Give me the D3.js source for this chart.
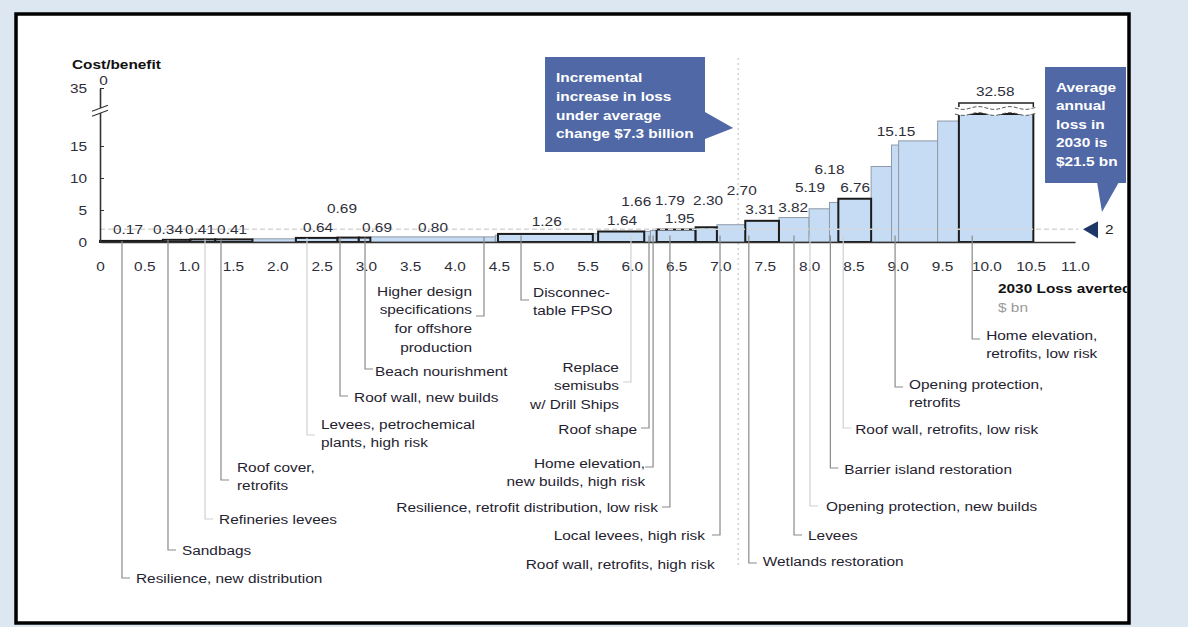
<!DOCTYPE html>
<html><head><meta charset="utf-8">
<script src="https://cdn.jsdelivr.net/npm/d3@7"></script>
<style>
html,body{margin:0;padding:0;background:#dde7f1;}
svg{display:block;font-family:"Liberation Sans",Arial,Helvetica,sans-serif;}
</style></head><body>
<svg id="chart" width="1188" height="627"></svg>
<script>
// ---------------- data ----------------
// Loss averted by each measure, $ bn (bar widths, in order)
const lossAverted = [0.71, 0.31, 0.28, 0.42, 0.49, 0.47, 0.24, 0.13, 1.41, 0.03, 1.07, 0.06, 0.52, 0.07,
                     0.07, 0.44, 0.24, 0.32, 0.38, 0.34, 0.23, 0.10, 0.37, 0.23, 0.08, 0.44, 0.24, 0.84];
// Cost/benefit ratio (bar heights)
const costBenefit = [0.17, 0.34, 0.41, 0.41, 0.50, 0.64, 0.69, 0.69, 0.80, 1.05, 1.26, 1.30, 1.64, 1.66,
                     1.79, 1.95, 2.30, 2.70, 3.31, 3.82, 5.19, 6.18, 6.76, 11.8, 15.15, 15.8, 18.9, 32.58];
const valueLabels = ["0.17","0.34","0.41","0.41","","0.64","0.69","0.69","0.80","","1.26","","1.64","1.66",
                     "1.79","1.95","2.30","2.70","3.31","3.82","5.19","6.18","6.76","","15.15","","","32.58"];
const highlighted = [1,1,1,1,0,1,1,1,0,0,1,0,1,0,0,1,1,0,1,0,0,0,1,0,0,0,0,1];
const measures = [
  "Resilience, new distribution", "Sandbags", "Refineries levees", "Roof cover,\nretrofits", "",
  "Levees, petrochemical\nplants, high risk", "Roof wall, new builds", "Beach nourishment",
  "Higher design\nspecifications\nfor offshore\nproduction", "", "Disconnec-\ntable FPSO", "",
  "Replace\nsemisubs\nw/ Drill Ships", "Roof shape", "Home elevation,\nnew builds, high risk",
  "Resilience, retrofit distribution, low risk", "Roof wall, retrofits, high risk", "Local levees, high risk",
  "Wetlands restoration", "Levees", "Opening protection, new builds", "Barrier island restoration",
  "Roof wall, retrofits, low risk", "", "Opening protection,\nretrofits", "", "", "Home elevation,\nretrofits, low risk"
];
const xTicks = d3.range(0, 11.001, 0.5);
const yTicks = [0, 5, 10, 15, 35];
const averageLoss = 2;          // marker "2"
const thresholdLoss = 7.2;      // dotted vertical line
const yCap = 20;                // bars above this are drawn broken
const calloutLeft = ["Incremental", "increase in loss", "under average", "change $7.3 billion"];
const calloutRight = ["Average", "annual", "loss in", "2030 is", "$21.5 bn"];

// ---------------- layout (annotation placement) ----------------
// value label anchors [x in $bn, y in cost/benefit units]
const valueLabelAt = {0:[0.316,1.25],1:[0.767,1.25],2:[1.128,1.25],3:[1.49,1.25],5:[2.46,1.6],6:[2.73,4.6],
  7:[3.125,1.6],8:[3.757,1.6],10:[5.04,2.45],12:[5.89,2.6],13:[6.05,5.7],14:[6.43,5.85],15:[6.54,2.95],
  16:[6.86,5.85],17:[7.24,7.3],18:[7.45,4.35],19:[7.82,4.7],20:[8.01,7.85],21:[8.23,10.7],22:[8.52,7.85],
  24:[8.98,16.55],27:[10.10,30.2]};
// leader: bar index, leader x ($bn), hook y, first line centre y, side, faint, dx
const leaderLayout = [
  {i:0, at:0.248, hook:578, top:578, side:"r"},
  {i:1, at:0.767, hook:550, top:550, side:"r"},
  {i:2, at:1.185, hook:519, top:519, side:"r", faint:true},
  {i:3, at:1.365, hook:480, top:467, side:"r", dx:16},
  {i:5, at:2.335, hook:435, top:424, side:"r", faint:true},
  {i:6, at:2.708, hook:396, top:397, side:"r"},
  {i:7, at:2.99, hook:369, top:371, side:"r", dx:10},
  {i:8, at:4.332, hook:316, top:291, side:"l"},
  {i:10, at:4.75, hook:300, top:292, side:"r", dx:12},
  {i:12, at:5.99, hook:382, top:367, side:"l", faint:true},
  {i:13, at:6.194, hook:428, top:429, side:"l"},
  {i:14, at:6.24, hook:467, top:463, side:"l", dx:-8},
  {i:15, at:6.43, hook:507, top:507, side:"l"},
  {i:16, at:7.07, hook:null, top:564, side:"l"},
  {i:17, at:6.995, hook:535, top:535, side:"l", dx:-15},
  {i:18, at:7.32, hook:563, top:561, side:"r"},
  {i:19, at:7.83, hook:535, top:535, side:"r"},
  {i:20, at:8.01, hook:506, top:506, side:"r", faint:true, dx:16},
  {i:21, at:8.24, hook:468, top:469, side:"r"},
  {i:22, at:8.385, hook:428, top:429, side:"r", faint:true, dx:12},
  {i:24, at:8.97, hook:387, top:384, side:"r"},
  {i:27, at:9.84, hook:339, top:335, side:"r"}
];

// ---------------- drawing ----------------
const SX = 1.14, FS = 13.5;
const svg = d3.select("#chart");
svg.append("rect").attr("width",1188).attr("height",627).attr("fill","#dde7f1");
svg.append("rect").attr("x",16).attr("y",14).attr("width",1113).attr("height",609).attr("fill","#fff");
svg.append("defs").append("clipPath").attr("id","fc")
  .append("rect").attr("x",17).attr("y",15).attr("width",1110).attr("height",607);
const g = svg.append("g").attr("clip-path","url(#fc)");

const x = d3.scaleLinear().domain([0, 11]).range([100, 1075]);
const y = d3.scaleLinear().domain([0, 20, 35]).range([242, 114, 88]);

function addText(parent, px, py, lines, o={}) {
  const t = parent.append("text")
    .attr("transform", `translate(${px},${py}) scale(${SX},1)`)
    .attr("text-anchor", o.anchor || "start")
    .attr("font-weight", o.weight || "normal")
    .attr("fill", o.fill || "#1f2330")
    .attr("font-size", o.size || FS);
  lines.forEach((s,k) => t.append("tspan").attr("x",0).attr("y", k*(o.lh||18.7)).text(s));
  return t;
}

// vertical dotted threshold line
g.append("line").attr("x1", x(thresholdLoss)).attr("x2", x(thresholdLoss))
  .attr("y1", 58).attr("y2", 568).attr("stroke","#c8c8c8").attr("stroke-width",1.2)
  .attr("stroke-dasharray","2,3");

// bars
const ends = d3.cumsum(lossAverted);
const bars = lossAverted.map((w,i) => ({i, x0: ends[i]-w, x1: ends[i], v: costBenefit[i], dark: !!highlighted[i]}));
const ordered = bars.filter(d => !d.dark).concat(bars.filter(d => d.dark));
g.append("g").selectAll("rect").data(ordered).join("rect")
  .attr("x", d => x(d.x0)).attr("width", d => x(d.x1) - x(d.x0))
  .attr("y", d => y(Math.min(d.v, yCap)))
  .attr("height", d => y(0) - y(Math.min(d.v, yCap)))
  .attr("fill", "#c6dcf5")
  .attr("stroke", d => d.dark ? "#1b1b1b" : "#8f9aa6")
  .attr("stroke-width", d => d.dark ? 2 : 1);

// average loss dashed line
g.append("line").attr("x1", x(0)).attr("x2", x(11)+3).attr("y1", y(averageLoss)).attr("y2", y(averageLoss))
  .attr("stroke","#d6d6d6").attr("stroke-width",1.4).attr("stroke-dasharray","5,3");

// broken bar(s)
bars.filter(d => d.v > yCap).forEach(d => {
  const xa = x(d.x0) - 4, xb = x(d.x1) + 4, yb = y(yCap), yt = yb - 6;
  const wave = (yy) => d3.range(xa, xb + 0.1, 2).map(px => [px, yy + 1.4*Math.sin((px - xa)/5)]);
  const top = wave(yt), bot = wave(yb).reverse();
  g.append("path").attr("d", d3.line()(top.concat(bot)) + "Z").attr("fill","#fff");
  [yt, yb].forEach(yy => g.append("path").attr("d", d3.line()(wave(yy)))
    .attr("fill","none").attr("stroke","#555").attr("stroke-width",1).attr("stroke-dasharray","4,2"));
  g.append("path").attr("d", `M${x(d.x0)},${yt-1}V${yt-5}H${x(d.x1)}V${yt-1}`)
    .attr("fill","none").attr("stroke","#222").attr("stroke-width",1.5);
});

// x axis
const xg = g.append("g").attr("transform", `translate(0,${y(0)})`)
  .call(d3.axisBottom(x).tickValues(xTicks).tickSize(0).tickSizeOuter(0)
    .tickFormat(d => d === 0 ? "0" : d3.format(".1f")(d)));
xg.attr("font-family", null).attr("font-size", null);
xg.select(".domain").attr("stroke","#333").attr("stroke-width",1.6);
xg.selectAll("text").attr("y", 0).attr("dy", null)
  .attr("transform", `translate(0,29) scale(${SX},1)`).attr("fill","#2e2e3a").attr("font-size", FS);

// y axis
const yg = g.append("g").attr("transform", `translate(${x(0)},0)`)
  .call(d3.axisLeft(y).tickValues(yTicks).tickSizeInner(-4).tickSizeOuter(0).tickPadding(0));
yg.attr("font-family", null).attr("font-size", null);
yg.select(".domain").attr("stroke","#333").attr("stroke-width",1.6);
yg.selectAll(".tick line").attr("stroke","#333");
yg.selectAll("text").attr("x", 0).attr("dy", null)
  .attr("transform", `translate(-13,4.8) scale(${SX},1)`).attr("fill","#2e2e3a").attr("font-size", FS);
// axis break marks
{
  const yc = y(21.6), x0 = x(0);
  g.append("path").attr("d", `M${x0-8},${yc} L${x0+8},${yc-6} L${x0+8},${yc-1} L${x0-8},${yc+5} Z`).attr("fill","#fff");
  [0, 5].forEach(o => g.append("line").attr("x1", x0-8).attr("y1", yc+o).attr("x2", x0+8).attr("y2", yc-6+o)
    .attr("stroke","#333").attr("stroke-width",1.1));
}
addText(g, x(0)+3.5, 85, ["0"], {anchor:"middle", fill:"#2e2e3a"});
addText(g, 72, 69, ["Cost/benefit"], {weight:"bold", fill:"#111"});
addText(g, 998, 293, ["2030 Loss averted"], {weight:"bold", fill:"#111"});
addText(g, 998, 312, ["$ bn"], {fill:"#9a9a9a"});

// leaders and measure names
leaderLayout.forEach(L => {
  const b = bars[L.i], lx = x(L.at), right = L.side === "r";
  if (L.hook !== null) {
    const y0 = y(Math.min(b.v, 1));
    g.append("path").attr("d", `M${lx},${y0}V${L.hook}H${lx + (right ? 8 : -8)}`)
      .attr("fill","none").attr("stroke", L.faint ? "#d0d0d0" : "#8a8a8a").attr("stroke-width",1.2);
  }
  const dx = L.dx !== undefined ? L.dx : (right ? 14 : -12);
  addText(g, lx + dx, L.top + 4.8, measures[L.i].split("\n"), {anchor: right ? "start" : "end"});
});

// value labels
bars.forEach(b => {
  if (!valueLabels[b.i]) return;
  const p = valueLabelAt[b.i];
  addText(g, x(p[0]), y(p[1]), [valueLabels[b.i]], {anchor:"middle", fill:"#2e2e3a"});
});

// callout: incremental increase
const boxC = "#5068a6";
g.append("rect").attr("x", 545).attr("y", 57).attr("width", 160).attr("height", 95).attr("fill", boxC);
g.append("path").attr("d", `M705,112L${x(thresholdLoss)-5},128L705,139Z`).attr("fill", boxC);
addText(g, 556, 82, calloutLeft, {weight:"bold", fill:"#fff", lh:18.8});

// callout: average annual loss
g.append("rect").attr("x", 1045).attr("y", 67).attr("width", 81).attr("height", 116).attr("fill", boxC);
g.append("path").attr("d", "M1097,182L1119,182L1102,212Z").attr("fill", boxC);
addText(g, 1056, 92, calloutRight, {weight:"bold", fill:"#fff", lh:18.5});

// average marker
const ya = y(averageLoss);
g.append("path").attr("d", `M${x(11)+8},${ya}L${x(11)+23},${ya-8}L${x(11)+23},${ya+9}Z`).attr("fill","#1d3769");
addText(g, x(11)+30, ya + 5, [String(averageLoss)], {fill:"#222"});

// frame
svg.append("rect").attr("x",16).attr("y",14).attr("width",1113).attr("height",609)
  .attr("fill","none").attr("stroke","#000").attr("stroke-width",3.5);
</script>
</body></html>
